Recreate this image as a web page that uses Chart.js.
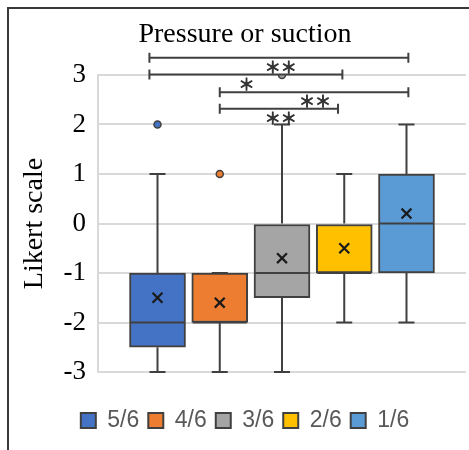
<!DOCTYPE html>
<html><head><meta charset="utf-8">
<script src="https://cdn.jsdelivr.net/npm/chart.js@4/dist/chart.umd.min.js"></script>
<style>
html,body{margin:0;padding:0;background:#fff;overflow:hidden;width:469px;height:450px;}
#wrap{position:relative;width:469px;height:450px;overflow:hidden;}
#frame{position:absolute;left:7px;top:7px;width:600px;height:600px;border-left:2px solid #3a3a3a;border-top:2px solid #3a3a3a;pointer-events:none;}
canvas{position:absolute;left:0;top:0;}
</style></head><body>
<div id="wrap"><canvas id="c" width="490" height="450"></canvas><div id="frame"></div></div>
<script>
// ---- data ----
const categories = ['5/6', '4/6', '3/6', '2/6', '1/6'];
const colors = ['#4472C4', '#ED7D31', '#A5A5A5', '#FFC000', '#5B9BD5'];
const mins = [-3, -3, -3, -2, -2];
const q1s = [-2.5, -2, -1.5, -1, -1];
const medians = [-2, -2, -1, -1, 0];
const q3s = [-1, -1, 0, 0, 1];
const maxs = [1, -1, 2, 1, 2];
const means = [-1.5, -1.6, -0.7, -0.5, 0.2];
const outliers = [[2], [1], [3], [], []];
const yTicks = [3, 2, 1, 0, -1, -2, -3];
const titleText = 'Pressure or suction';
const yTitle = 'Likert scale';
// significance brackets: from/to category index, level (y value), label and its anchor
const bracketFrom = [-0.13, -0.13, 1.0, 1.0];
const bracketTo = [4.03, 2.97, 4.03, 2.9];
const bracketLevel = [3.35, 3.01, 2.65, 2.32];
const bracketLabel = ['＊＊', '＊', '＊＊', '＊＊'];
const labelX = [1.98, 1.43, 2.53, 1.98];
const labelY = [3.17, 2.81, 2.47, 2.14];

const boxDatasets = categories.map((c, i) => ({
  type: 'bar',
  label: c,
  data: [{x: i, y: [q1s[i], q3s[i]]}],
  backgroundColor: colors[i],
  borderColor: '#404040',
  borderWidth: 2,
  borderSkipped: false,
  barThickness: 56,
  grouped: false,
  order: 3
}));
const outlierPts = [];
const outlierCols = [];
outliers.forEach((arr, i) => arr.forEach(v => { outlierPts.push({x: i, y: v}); outlierCols.push(colors[i]); }));

const meanDataset = {
  type: 'scatter', label: 'mean',
  data: means.map((m, i) => ({x: i, y: m})),
  pointStyle: 'crossRot', radius: 7, borderColor: '#1a1a1a', borderWidth: 2.2,
  backgroundColor: '#1a1a1a', order: 1
};
const outlierDataset = {
  type: 'scatter', label: 'outlier',
  data: outlierPts,
  pointStyle: 'circle', radius: 3.5, borderColor: '#404040', borderWidth: 1.5,
  backgroundColor: outlierCols, order: 1
};

const parts = {
  id: 'boxParts',
  beforeDatasetsDraw(chart) {
    const {ctx, scales: {x, y}} = chart;
    ctx.save();
    ctx.strokeStyle = '#404040'; ctx.lineWidth = 2;
    categories.forEach((c, i) => {
      const cx = x.getPixelForValue(i);
      ctx.beginPath();
      ctx.moveTo(cx, y.getPixelForValue(maxs[i])); ctx.lineTo(cx, y.getPixelForValue(q3s[i]));
      ctx.moveTo(cx, y.getPixelForValue(q1s[i])); ctx.lineTo(cx, y.getPixelForValue(mins[i]));
      [maxs[i], mins[i]].forEach(v => {
        const py = y.getPixelForValue(v);
        ctx.moveTo(cx - 8, py); ctx.lineTo(cx + 8, py);
      });
      ctx.stroke();
    });
    ctx.restore();
  },
  afterDatasetsDraw(chart) {
    const {ctx, scales: {x, y}} = chart;
    ctx.save();
    ctx.strokeStyle = '#404040'; ctx.lineWidth = 2;
    categories.forEach((c, i) => {
      const cx = x.getPixelForValue(i);
      const py = y.getPixelForValue(medians[i]);
      ctx.beginPath(); ctx.moveTo(cx - 27, py); ctx.lineTo(cx + 27, py); ctx.stroke();
    });
    // brackets
    bracketLevel.forEach((lv, k) => {
      const x0 = x.getPixelForValue(bracketFrom[k]);
      const x1 = x.getPixelForValue(bracketTo[k]);
      const py = y.getPixelForValue(lv);
      ctx.strokeStyle = '#404040'; ctx.lineWidth = 2;
      ctx.beginPath();
      ctx.moveTo(x0, py); ctx.lineTo(x1, py);
      ctx.moveTo(x0, py - 5); ctx.lineTo(x0, py + 5);
      ctx.moveTo(x1, py - 5); ctx.lineTo(x1, py + 5);
      ctx.stroke();
      ctx.fillStyle = '#333'; ctx.strokeStyle = '#333'; ctx.lineWidth = 0.9;
      ctx.font = '16px "Noto Sans CJK JP"';
      ctx.textAlign = 'center'; ctx.textBaseline = 'middle';
      const tx = x.getPixelForValue(labelX[k]), ty = y.getPixelForValue(labelY[k]);
      ctx.fillText(bracketLabel[k], tx, ty);
      ctx.strokeText(bracketLabel[k], tx, ty);
    });
    ctx.restore();
  }
};

new Chart(document.getElementById('c'), {
  type: 'bar',
  data: {datasets: [...boxDatasets, meanDataset, outlierDataset]},
  plugins: [parts],
  options: {
    responsive: false, animation: false,
    layout: {padding: {left: 10, right: 10, top: 10, bottom: 8}},
    plugins: {
      tooltip: {enabled: false},
      title: {display: true, text: titleText, color: '#000',
        font: {family: 'Liberation Serif', size: 28, weight: 'normal'},
        padding: {top: 8, bottom: 23.4}},
      legend: {position: 'bottom',
        labels: {filter: it => it.datasetIndex < categories.length,
          font: {family: 'Liberation Sans', size: 23}, color: '#595959',
          boxWidth: 15, boxHeight: 15, padding: 9}}
    },
    scales: {
      x: {type: 'linear', min: -0.956, max: 4.956, offset: false,
        grid: {display: false}, border: {display: false}, ticks: {display: false},
        afterFit: s => { s.height = 28; }},
      y: {min: -3, max: 3, position: 'left',
        afterBuildTicks: s => { s.ticks = yTicks.map(v => ({value: v})); },
        afterFit: s => { s.width = 88; },
        grid: {color: '#d9d9d9', lineWidth: 2, drawTicks: false},
        border: {display: true, color: '#d9d9d9', width: 2},
        ticks: {color: '#000', padding: 12, font: {family: 'Liberation Serif', size: 27}},
        title: {display: true, text: yTitle, color: '#000',
          font: {family: 'Liberation Serif', size: 28}, padding: {top: 8, bottom: 4}}},
      y2: {position: 'right', display: true, grid: {display: false}, border: {display: false},
        ticks: {display: false}, afterFit: s => { s.width = 14; }}
    }
  }
});
</script>
</body></html>
